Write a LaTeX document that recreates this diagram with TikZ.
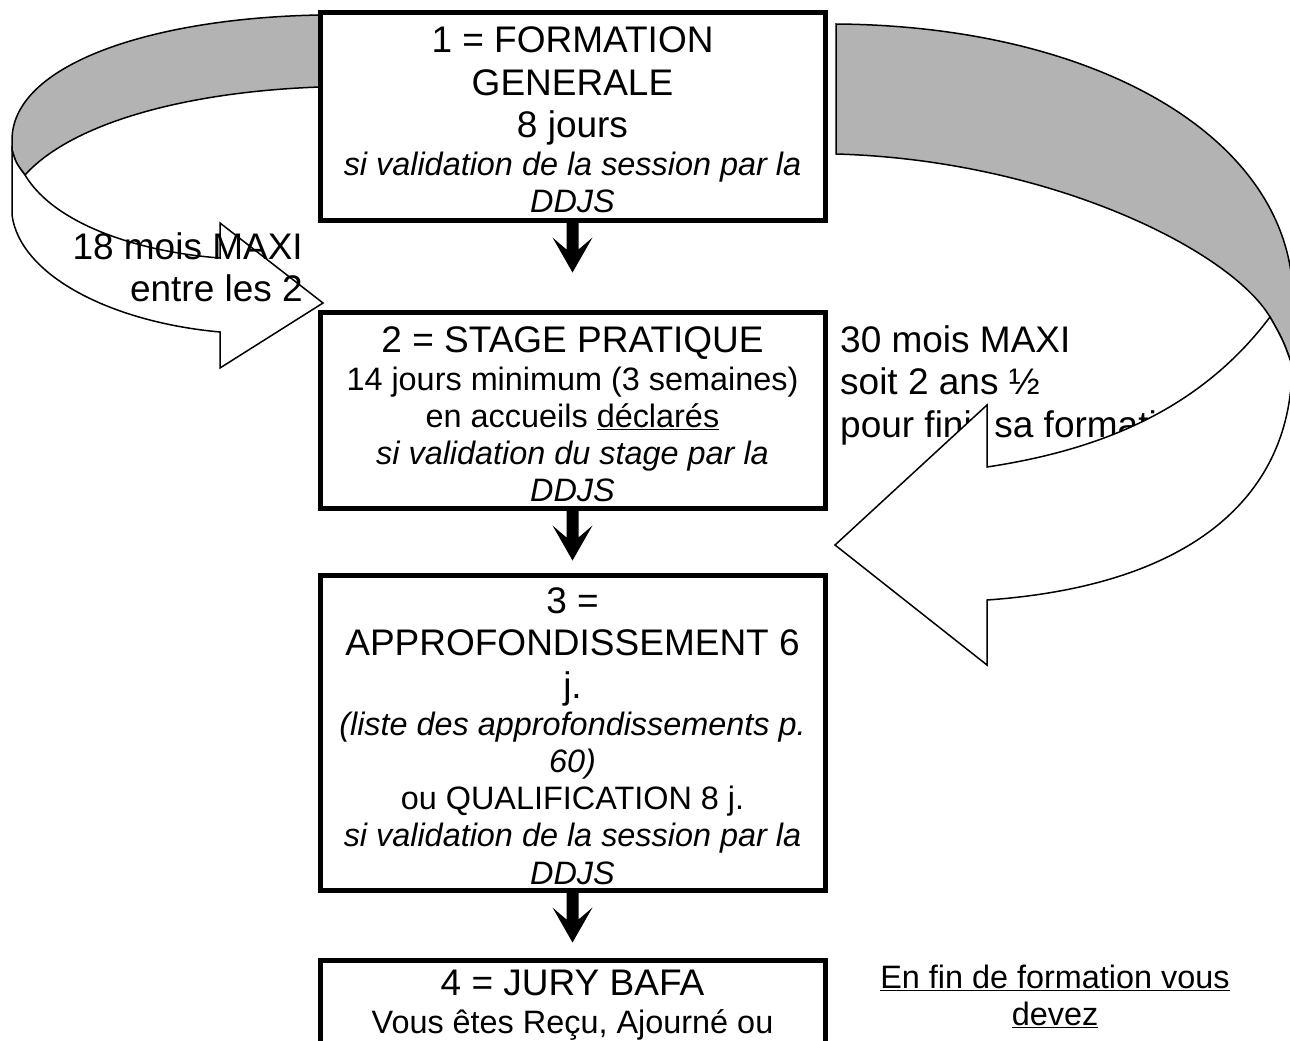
\documentclass[tikz,border=0pt]{standalone}
\usepackage{fontspec}
\setmainfont{Liberation Sans}
\definecolor{bandgray}{RGB}{179,179,179}
\newcommand\fixspaces{\spaceskip=\fontdimen2\font\xspaceskip=\fontdimen2\font\relax}
\newcommand\bigtxt{\fontsize{37}{42.5}\selectfont\fixspaces}
\newcommand\smtxt{\fontsize{32.4}{37.2}\selectfont\fixspaces}
\newcommand\smit{\itshape\fixspaces}
\newcommand\smup{\upshape\fixspaces}
\setlength\parindent{0pt}
\tikzset{
  box/.style={draw, line width=5pt, fill=white, minimum width=505pt,
    inner sep=0pt, text width=490pt, align=center},
  band/.style={draw, line width=1.5pt, fill=bandgray},
  front/.style={draw, line width=1.5pt, fill=white},
  freetext/.style={inner sep=0pt},
  downarr/.pic={\fill (-6,0) -- (6,0) -- (6,27) -- (20,15) -- (0,50) -- (-20,15) -- (-6,27) -- cycle;}
}
\begin{document}
\begin{tikzpicture}[x=1pt,y=-1pt]
\useasboundingbox[fill=white] (0,0) rectangle (1290,1041);

% left curved arrow
\path[band] (320,15) .. controls (150,18) and (12,65) .. (12,140) -- (12,150)
  .. controls (16,163) .. (25,175) .. controls (70,125) and (180,92) .. (320,87) -- cycle;
\path[front] (25,175) .. controls (16,163) .. (12,150) -- (12,215)
  .. controls (20,275) and (110,322) .. (220,332) -- (220,368) -- (323,303)
  -- (220,223) -- (220,258) .. controls (140,252) and (55,225) .. (25,175) -- cycle;

% text under the right arrow
\node[freetext, anchor=base west, text width=450pt, align=left] (t30) at (840,352)
  {\bigtxt 30 mois MAXI\\soit 2 ans ½\\pour finir sa formation\par};

% right curved arrow
\path[band] (836,24) .. controls (1100,26) and (1293,140) .. (1293,300) -- (1292,365)
  .. controls (1283,340) .. (1270,317) .. controls (1230,250) and (1050,160) .. (836,154) -- cycle;
\path[front] (1270,317) .. controls (1283,340) .. (1292,365)
  .. controls (1292,490) and (1200,585) .. (987,600) -- (987,665) -- (835,545)
  -- (987,405) -- (987,467) .. controls (1100,450) and (1200,410) .. (1270,317) -- cycle;

% boxes
\node[box, minimum height=207pt, text height=32.5pt] (b1) at (572.5,116.5)
  {\bigtxt 1 = FORMATION\\GENERALE\\8 jours\par
   \smtxt\smit si validation de la session par la\\DDJS\par};
\node[box, minimum height=196pt, text height=35pt] (b2) at (572.5,410)
  {\bigtxt 2 = STAGE PRATIQUE\par
   \smtxt 14 jours minimum (3 semaines)\\en accueils \underline{déclarés}\par
   \smit si validation du stage par la\\DDJS\par};
\node[box, minimum height=315pt, text height=32.5pt] (b3) at (572.5,732.5)
  {\bigtxt 3 =\\APPROFONDISSEMENT 6\\j.\par
   \smtxt\smit (liste des approfondissements p.\\60)\par
   \smup ou QUALIFICATION 8 j.\par
   \smit si validation de la session par la\\DDJS\par};
\node[box, anchor=north, inner ysep=10pt, text depth=150pt] (b4) at (572.5,958)
  {\bigtxt 4 = JURY BAFA\par
   \smtxt Vous êtes Reçu, Ajourné ou\par};

% down arrows between boxes
\pic at (b1.south) {downarr};
\pic at (b2.south) {downarr};
\pic at (b3.south) {downarr};

% texts
\node[freetext, anchor=base east, text width=280pt, align=right] (t18) at (303,259)
  {\bigtxt 18 mois MAXI\\entre les 2\par};
\node[freetext, anchor=base, text width=400pt, align=center] (tfin) at (1055,988)
  {\smtxt\underline{En fin de formation vous}\\\underline{devez}\par};
\end{tikzpicture}
\end{document}
